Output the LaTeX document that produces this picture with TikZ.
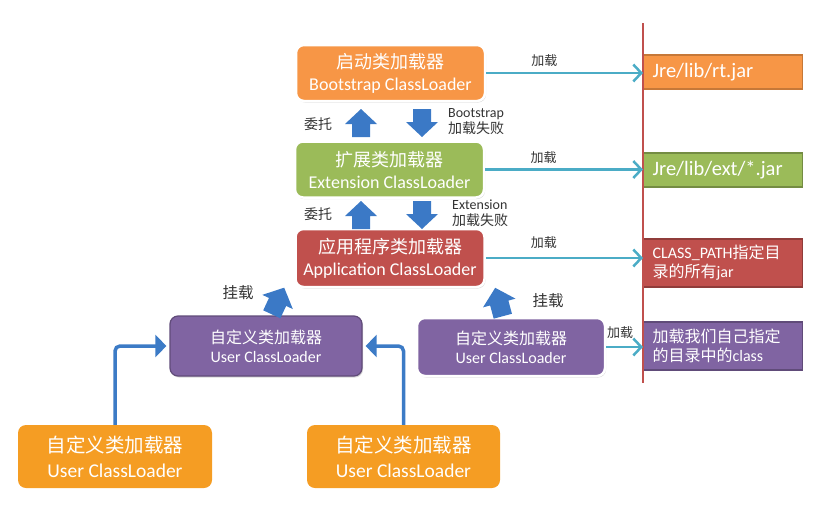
\documentclass[tikz,border=0pt]{standalone}
\usepackage{fontspec}
\setmainfont{Carlito}
\newfontfamily\cjk{Noto Sans CJK SC}
\usetikzlibrary{arrows.meta,shadows}

\tikzset{
  loader/.style = {rounded corners=8pt, draw=white, line width=2.5pt, text=white, align=center, inner sep=0pt,
    minimum width=189pt, minimum height=56pt, font=\fontsize{18}{22}\selectfont,
    drop shadow={opacity=0.3, shadow xshift=1pt, shadow yshift=-1.5pt}},
  userbox/.style = {loader, fill=usercol, minimum width=190pt, minimum height=58pt, font=\fontsize{16}{19}\selectfont},
  custbox/.style = {rounded corners=8pt, fill=custcol, text=white, align=center, inner sep=0pt,
    minimum width=194pt, minimum height=63pt, font=\fontsize{19.5}{25}\selectfont},
  jarbox/.style = {rectangle, line width=1.2pt, text=white, align=left, anchor=west, inner xsep=9pt, inner ysep=0pt,
    text width=141pt, minimum height=34pt, font=\fontsize{20.5}{24}\selectfont},
  fatarrow/.pic = {\fill[fatcol] (-9,14) -- (-9,1) -- (-16,1) -- (0,-14) -- (16,1) -- (9,1) -- (9,14) -- cycle;},
  loadarrow/.style = {draw=loadcol, line width=2.5pt, -{Straight Barb[length=8pt,width=17pt]}},
  feedarrow/.style = {draw=feedcol, line width=3.5pt, rounded corners=5pt, -{Triangle[length=11pt,width=22pt]}, shorten >=3pt},
  lbl/.style = {text=labelcol, inner sep=0pt, font=\fontsize{13}{16}\selectfont}
}

\begin{document}
\begin{tikzpicture}[x=1pt, y=-1pt]
\definecolor{bootcol}{HTML}{F79646}
\definecolor{extcol}{HTML}{9BBB59}
\definecolor{appcol}{HTML}{C0504D}
\definecolor{usercol}{HTML}{8064A2}
\definecolor{custcol}{HTML}{F59D23}
\definecolor{loadcol}{HTML}{4BACC6}
\definecolor{feedcol}{HTML}{3C7BC6}
\definecolor{fatcol}{HTML}{3B79C6}
\definecolor{labelcol}{HTML}{333333}
\useasboundingbox (0,0) rectangle (821,512);

\node[loader, fill=bootcol] (boot) at (390.5,73) {{\cjk 启动类加载器}\\Bootstrap ClassLoader};
\node[loader, fill=extcol] (ext) at (389.5,169.5) {{\cjk 扩展类加载器}\\Extension ClassLoader};
\node[loader, fill=appcol, minimum height=58pt] (app) at (390,258) {{\cjk 应用程序类加载器}\\Application ClassLoader};
\node[userbox, draw=usercol!75!black, line width=1.2pt, minimum width=192pt, minimum height=60pt] (user1) at (266,346) {{\cjk 自定义类加载器}\\User ClassLoader};
\node[userbox, minimum width=188pt] (user2) at (511,347) {{\cjk 自定义类加载器}\\User ClassLoader};
\node[custbox] (cust1) at (115,456.5) {{\cjk 自定义类加载器}\\User ClassLoader};
\node[custbox, minimum width=193pt] (cust2) at (403.5,456.5) {{\cjk 自定义类加载器}\\User ClassLoader};

\node[jarbox, fill=bootcol, draw=bootcol!80!black] (rtjar) at (643,72) {Jre/lib/rt.jar};
\node[jarbox, fill=extcol, draw=extcol!75!black] (extjar) at (643,170) {Jre/lib/ext/*.jar};
\node[jarbox, fill=appcol, draw=appcol!75!black, minimum height=48pt, font=\fontsize{16}{19}\selectfont] (cpjar) at (643,263) {CLASS\_PATH{\cjk 指定目}\\{\cjk 录的所有}jar};
\node[jarbox, fill=usercol, draw=usercol!75!black, minimum height=48pt, font=\fontsize{16}{19}\selectfont] (cls) at (643,346) {{\cjk 加载我们自己指定}\\{\cjk 的目录中的}class};
\draw[draw=appcol, line width=2pt] (643,23) -- (643,383);

\draw[loadarrow] (boot.east) -- (boot.east -| rtjar.west) node[lbl, pos=0.37, above=5pt] (load1) {\cjk 加载};
\draw[loadarrow] (ext.east) -- (ext.east -| extjar.west) node[lbl, pos=0.37, above=5pt] (load2) {\cjk 加载};
\draw[loadarrow] (app.east) -- (app.east -| cpjar.west) node[lbl, pos=0.37, above=8pt] (load3) {\cjk 加载};
\draw[loadarrow] (user2.east) -- (user2.east -| cls.west) node[lbl, pos=0.38, above=7pt] (load4) {\cjk 加载};

\pic (up1) at (361,123) {fatarrow};
\pic[rotate=180] (down1) at (422,123) {fatarrow};
\pic (up2) at (361,215) {fatarrow};
\pic[rotate=180] (down2) at (422,215) {fatarrow};
\node[lbl, font=\fontsize{14}{16}\selectfont] (ask1) at (318,124) {\cjk 委托};
\node[lbl, font=\fontsize{14}{16}\selectfont] (ask2) at (318,214) {\cjk 委托};
\node[lbl, anchor=west, align=left, font=\fontsize{14}{16}\selectfont] (fail1) at (448,122) {Bootstrap\\{\cjk 加载失败}};
\node[lbl, anchor=west, align=left, font=\fontsize{14}{16}\selectfont] (fail2) at (452,213) {Extension\\{\cjk 加载失败}};

\pic[rotate=-25, scale=1.05] (mount1) at (278,301) {fatarrow};
\pic[rotate=15, scale=1.05] (mount2) at (499,302) {fatarrow};
\node[lbl, font=\fontsize{15.5}{18}\selectfont] (hang1) at (238,293) {\cjk 挂载};
\node[lbl, font=\fontsize{15.5}{18}\selectfont] (hang2) at (548,301) {\cjk 挂载};

\draw[feedarrow] (cust1.north) |- (user1.west);
\draw[feedarrow] (cust2.north) |- (user1.east);
\end{tikzpicture}
\end{document}
